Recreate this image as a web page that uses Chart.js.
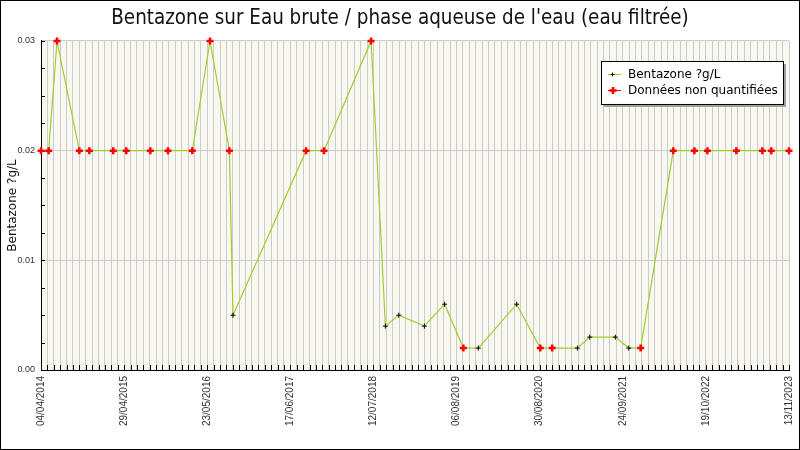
<!DOCTYPE html>
<html><head><meta charset="utf-8">
<script src="https://cdn.jsdelivr.net/npm/chart.js@4/dist/chart.umd.min.js"></script>
<style>html,body{margin:0;padding:0;background:#fff;overflow:hidden}</style>
</head><body>
<canvas id="c" width="800" height="450"></canvas>
<script>
const chartTitle = "Bentazone sur Eau brute / phase aqueuse de l'eau (eau filtrée)";
const yAxisTitle = 'Bentazone ?g/L';
const legendLabels = ['Bentazone ?g/L', 'Données non quantifiées'];

const sampleDates = ['2014-04-04','2014-05-10','2014-06-18','2014-10-01','2014-11-17','2015-03-09','2015-05-09','2015-08-30','2015-11-21','2016-03-14','2016-06-05','2016-09-04','2016-09-21','2017-08-30','2017-11-22','2018-07-01','2018-09-06','2018-11-08','2019-03-08','2019-06-11','2019-09-07','2019-11-16','2020-05-14','2020-09-02','2020-10-28','2021-02-23','2021-04-22','2021-08-20','2021-10-22','2021-12-17','2022-05-19','2022-08-26','2022-10-26','2023-03-11','2023-07-11','2023-08-22','2023-11-13'];
const bentazoneValues = [0.02,0.02,0.03,0.02,0.02,0.02,0.02,0.02,0.02,0.02,0.03,0.02,0.005,0.02,0.02,0.03,0.004,0.005,0.004,0.006,0.002,0.002,0.006,0.002,0.002,0.002,0.003,0.003,0.002,0.002,0.02,0.02,0.02,0.02,0.02,0.02,0.02];
// 1 = quantified value, 0 = donnée non quantifiée
const quantified = [0,0,0,0,0,0,0,0,0,0,0,0,1,0,0,0,1,1,1,1,0,1,1,0,0,1,1,1,1,0,0,0,0,0,0,0,0];

const xTickLabels = ['04/04/2014','29/04/2015','23/05/2016','17/06/2017','12/07/2018','06/08/2019','30/08/2020','24/09/2021','19/10/2022','13/11/2023'];
const yTickLabels = ['0.00','0.01','0.02','0.03'];

const ORIGIN = Date.UTC(2014, 3, 4);
const DAY = 86400000;
function dayOf(s){ const p = s.split('-').map(Number); return Math.round((Date.UTC(p[0], p[1]-1, p[2]) - ORIGIN) / DAY); }
const points = sampleDates.map((d, i) => ({x: dayOf(d), y: bentazoneValues[i]}));
const xMax = dayOf('2023-11-13');
const labelStep = xMax / (xTickLabels.length - 1); // 390 days
const gridStep = 30;

const lineColor = '#A2CE2C';
const nqColor = '#FF0000';

const deco = {
  id: 'deco',
  beforeDraw(chart){
    const {ctx, chartArea: a} = chart;
    ctx.save();
    ctx.fillStyle = '#fff'; ctx.fillRect(0, 0, chart.width, chart.height);
    ctx.fillStyle = '#F8F8F0'; ctx.fillRect(a.left, a.top, a.right - a.left, a.bottom - a.top);
    ctx.restore();
  },
  beforeDatasetsDraw(chart){
    const {ctx, chartArea: a, scales: {x, y}} = chart;
    ctx.save(); ctx.strokeStyle = '#000'; ctx.lineWidth = 1; ctx.beginPath();
    x.ticks.forEach(t => { const px = Math.round(x.getPixelForValue(t.value)) + 0.5; ctx.moveTo(px, a.bottom); ctx.lineTo(px, a.bottom - 5); });
    y.ticks.forEach(t => { const py = Math.round(y.getPixelForValue(t.value)) + 0.5; ctx.moveTo(a.left, py); ctx.lineTo(a.left + 4, py); });
    ctx.stroke(); ctx.restore();
  },
  afterDraw(chart){
    const {ctx, chartArea: a} = chart;
    ctx.save();
    const lx = a.right - 188, ly = a.top + 20, lw = 182, lh = 43;
    ctx.fillStyle = '#A0A0A0'; ctx.fillRect(lx + 3, ly + 3, lw, lh);
    ctx.fillStyle = '#fff'; ctx.fillRect(lx, ly, lw, lh);
    ctx.strokeStyle = '#000'; ctx.lineWidth = 1; ctx.strokeRect(lx + 0.5, ly + 0.5, lw, lh);
    ctx.font = '12px "DejaVu Sans"'; ctx.textBaseline = 'middle'; ctx.fillStyle = '#000';
    const rows = [ly + 13, ly + 29];
    // entry 1
    ctx.strokeStyle = lineColor; ctx.beginPath(); ctx.moveTo(lx + 7, rows[0] + 0.5); ctx.lineTo(lx + 20, rows[0] + 0.5); ctx.stroke();
    ctx.strokeStyle = '#000'; ctx.beginPath(); ctx.moveTo(lx + 11.5, rows[0] - 1.5); ctx.lineTo(lx + 11.5, rows[0] + 2.5); ctx.moveTo(lx + 9.5, rows[0] + 0.5); ctx.lineTo(lx + 13.5, rows[0] + 0.5); ctx.stroke();
    ctx.fillText(legendLabels[0], lx + 27, rows[0] + 1);
    // entry 2
    ctx.strokeStyle = nqColor; ctx.lineWidth = 1; ctx.beginPath(); ctx.moveTo(lx + 7, rows[1] + 0.5); ctx.lineTo(lx + 20, rows[1] + 0.5); ctx.stroke();
    ctx.lineWidth = 2.5; ctx.beginPath(); ctx.moveTo(lx + 12, rows[1] - 3); ctx.lineTo(lx + 12, rows[1] + 4); ctx.moveTo(lx + 8.5, rows[1] + 0.5); ctx.lineTo(lx + 15.5, rows[1] + 0.5); ctx.stroke();
    ctx.fillStyle = '#000'; ctx.fillText(legendLabels[1], lx + 27, rows[1] + 1);
    // outer frame
    ctx.lineWidth = 1; ctx.strokeStyle = '#000'; ctx.strokeRect(0.5, 0.5, chart.width - 1, chart.height - 1);
    ctx.restore();
  }
};

new Chart(document.getElementById('c'), {
  type: 'line',
  data: {
    datasets: [{
      label: legendLabels[0],
      data: points,
      borderColor: lineColor,
      borderWidth: 1.2,
      tension: 0,
      pointStyle: 'cross',
      pointRadius: quantified.map(q => q ? 2.5 : 3.5),
      pointBorderWidth: quantified.map(q => q ? 1 : 2.5),
      pointBorderColor: quantified.map(q => q ? '#000' : nqColor),
      pointBackgroundColor: quantified.map(q => q ? '#000' : nqColor),
      clip: 6
    }]
  },
  options: {
    responsive: false,
    animation: false,
    devicePixelRatio: 1,
    layout: {padding: {left: 0, right: 0, top: 0, bottom: 0}},
    plugins: {
      legend: {display: false},
      tooltip: {enabled: false},
      title: {
        display: true, text: chartTitle, color: '#111',
        font: {family: '"DejaVu Sans Condensed"', size: 20.4, weight: 'normal'},
        padding: {top: 6, bottom: 10.5}
      }
    },
    scales: {
      x: {
        type: 'linear', min: 0, max: xMax,
        afterFit: s => { s.height = 80; s.paddingLeft = 0; s.paddingRight = 0; },
        border: {color: '#000', width: 1},
        grid: {color: '#CCCCCC', lineWidth: 1, drawTicks: false},
        ticks: {
          stepSize: gridStep, autoSkip: false, maxRotation: 90, minRotation: 90,
          padding: 6, color: '#333',
          font: {family: '"Liberation Sans"', size: 10},
          callback: v => (Math.abs(v / labelStep - Math.round(v / labelStep)) < 1e-6) ? xTickLabels[Math.round(v / labelStep)] : ''
        }
      },
      y: {
        min: 0, max: 0.03,
        afterFit: s => { s.width = 41; s.paddingTop = 0; s.paddingBottom = 0; },
        border: {color: '#000', width: 1},
        grid: {color: c => (c.index % 4 === 0 ? '#CCCCCC' : 'rgba(0,0,0,0)'), lineWidth: 1, drawTicks: false},
        title: {display: true, text: yAxisTitle, color: '#111', font: {family: '"DejaVu Sans"', size: 12}, padding: {top: 6, bottom: 0}},
        ticks: {
          stepSize: 0.0025, autoSkip: false, padding: 6, color: '#333',
          font: {family: '"Liberation Sans"', size: 9},
          callback: (v, i) => (i % 4 === 0 ? yTickLabels[i / 4] : '')
        }
      },
      yRight: {
        position: 'right', min: 0, max: 0.03,
        afterFit: s => { s.width = 11; s.paddingTop = 0; s.paddingBottom = 0; },
        border: {display: false},
        grid: {display: false, drawOnChartArea: false},
        ticks: {display: false}
      }
    }
  },
  plugins: [deco]
});
</script>
</body></html>
